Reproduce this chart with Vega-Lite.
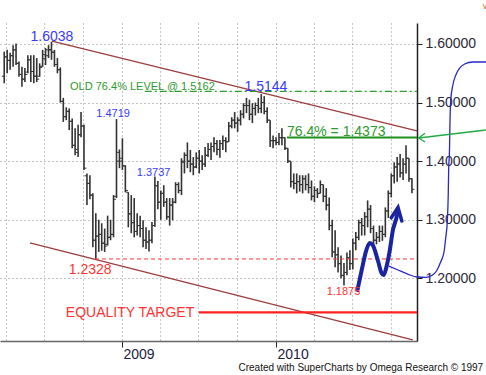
{
  "$schema": "https://vega.github.io/schema/vega-lite/v6.json",
  "width": 417,
  "height": 318,
  "autosize": {"type": "none"},
  "padding": {"left": 0, "top": 23, "right": 69, "bottom": 34},
  "background": "white",
  "config": {"view": {"stroke": null}, "font": "Liberation Sans"},
  "datasets": {
    "bars": [
      {"date":"2008-03-28","open":1.545,"high":1.587,"low":1.533,"close":1.578},
      {"date":"2008-04-04","open":1.578,"high":1.590,"low":1.550,"close":1.572},
      {"date":"2008-04-11","open":1.572,"high":1.585,"low":1.556,"close":1.580},
      {"date":"2008-04-18","open":1.580,"high":1.598,"low":1.561,"close":1.590},
      {"date":"2008-04-25","open":1.590,"high":1.601,"low":1.564,"close":1.567},
      {"date":"2008-05-02","open":1.567,"high":1.570,"low":1.544,"close":1.548},
      {"date":"2008-05-09","open":1.548,"high":1.561,"low":1.527,"close":1.540},
      {"date":"2008-05-16","open":1.540,"high":1.559,"low":1.535,"close":1.548},
      {"date":"2008-05-23","open":1.552,"high":1.581,"low":1.550,"close":1.573},
      {"date":"2008-05-30","open":1.573,"high":1.581,"low":1.535,"close":1.553},
      {"date":"2008-06-06","open":1.553,"high":1.581,"low":1.533,"close":1.545},
      {"date":"2008-06-13","open":1.545,"high":1.576,"low":1.535,"close":1.540},
      {"date":"2008-06-20","open":1.545,"high":1.567,"low":1.544,"close":1.560},
      {"date":"2008-06-27","open":1.562,"high":1.590,"low":1.561,"close":1.582},
      {"date":"2008-07-04","open":1.575,"high":1.593,"low":1.564,"close":1.590},
      {"date":"2008-07-11","open":1.580,"high":1.598,"low":1.576,"close":1.590},
      {"date":"2008-07-18","open":1.590,"high":1.6038,"low":1.573,"close":1.586},
      {"date":"2008-07-25","open":1.586,"high":1.590,"low":1.561,"close":1.565},
      {"date":"2008-08-01","open":1.565,"high":1.576,"low":1.550,"close":1.556},
      {"date":"2008-08-08","open":1.556,"high":1.560,"low":1.500,"close":1.502},
      {"date":"2008-08-15","open":1.502,"high":1.508,"low":1.467,"close":1.476},
      {"date":"2008-08-22","open":1.476,"high":1.492,"low":1.470,"close":1.485},
      {"date":"2008-08-29","open":1.485,"high":1.490,"low":1.453,"close":1.468},
      {"date":"2008-09-05","open":1.468,"high":1.473,"low":1.422,"close":1.427},
      {"date":"2008-09-12","open":1.427,"high":1.456,"low":1.410,"close":1.420},
      {"date":"2008-09-19","open":1.415,"high":1.462,"low":1.407,"close":1.445},
      {"date":"2008-09-26","open":1.445,"high":1.484,"low":1.441,"close":1.460},
      {"date":"2008-10-03","open":1.460,"high":1.462,"low":1.385,"close":1.388},
      {"date":"2008-10-10","open":1.375,"high":1.379,"low":1.325,"close":1.362},
      {"date":"2008-10-17","open":1.362,"high":1.376,"low":1.335,"close":1.342},
      {"date":"2008-10-24","open":1.342,"high":1.345,"low":1.253,"close":1.265},
      {"date":"2008-10-31","open":1.265,"high":1.311,"low":1.2328,"close":1.272},
      {"date":"2008-11-07","open":1.272,"high":1.300,"low":1.245,"close":1.275},
      {"date":"2008-11-14","open":1.275,"high":1.294,"low":1.247,"close":1.260},
      {"date":"2008-11-21","open":1.260,"high":1.285,"low":1.245,"close":1.255},
      {"date":"2008-11-28","open":1.258,"high":1.307,"low":1.256,"close":1.270},
      {"date":"2008-12-05","open":1.270,"high":1.300,"low":1.265,"close":1.275},
      {"date":"2008-12-12","open":1.275,"high":1.342,"low":1.270,"close":1.335},
      {"date":"2008-12-19","open":1.340,"high":1.4719,"low":1.337,"close":1.415},
      {"date":"2008-12-26","open":1.400,"high":1.420,"low":1.388,"close":1.405},
      {"date":"2009-01-02","open":1.400,"high":1.439,"low":1.385,"close":1.392},
      {"date":"2009-01-09","open":1.392,"high":1.393,"low":1.347,"close":1.350},
      {"date":"2009-01-16","open":1.347,"high":1.347,"low":1.287,"close":1.310},
      {"date":"2009-01-23","open":1.310,"high":1.342,"low":1.277,"close":1.295},
      {"date":"2009-01-30","open":1.295,"high":1.337,"low":1.270,"close":1.280},
      {"date":"2009-02-06","open":1.280,"high":1.311,"low":1.273,"close":1.290},
      {"date":"2009-02-13","open":1.290,"high":1.307,"low":1.270,"close":1.285},
      {"date":"2009-02-20","open":1.285,"high":1.299,"low":1.253,"close":1.265},
      {"date":"2009-02-27","open":1.265,"high":1.287,"low":1.250,"close":1.262},
      {"date":"2009-03-06","open":1.262,"high":1.282,"low":1.2457,"close":1.265},
      {"date":"2009-03-13","open":1.265,"high":1.296,"low":1.260,"close":1.290},
      {"date":"2009-03-20","open":1.290,"high":1.3737,"low":1.288,"close":1.358},
      {"date":"2009-03-27","open":1.358,"high":1.366,"low":1.318,"close":1.330},
      {"date":"2009-04-03","open":1.330,"high":1.350,"low":1.300,"close":1.345},
      {"date":"2009-04-10","open":1.345,"high":1.359,"low":1.322,"close":1.330},
      {"date":"2009-04-17","open":1.330,"high":1.337,"low":1.300,"close":1.305},
      {"date":"2009-04-24","open":1.305,"high":1.337,"low":1.290,"close":1.325},
      {"date":"2009-05-01","open":1.325,"high":1.337,"low":1.299,"close":1.330},
      {"date":"2009-05-08","open":1.330,"high":1.364,"low":1.328,"close":1.360},
      {"date":"2009-05-15","open":1.360,"high":1.364,"low":1.345,"close":1.350},
      {"date":"2009-05-22","open":1.350,"high":1.405,"low":1.342,"close":1.400},
      {"date":"2009-05-29","open":1.398,"high":1.415,"low":1.379,"close":1.410},
      {"date":"2009-06-05","open":1.410,"high":1.432,"low":1.388,"close":1.400},
      {"date":"2009-06-12","open":1.400,"high":1.419,"low":1.381,"close":1.395},
      {"date":"2009-06-19","open":1.395,"high":1.407,"low":1.376,"close":1.390},
      {"date":"2009-06-26","open":1.390,"high":1.415,"low":1.388,"close":1.405},
      {"date":"2009-07-03","open":1.405,"high":1.419,"low":1.379,"close":1.400},
      {"date":"2009-07-10","open":1.400,"high":1.410,"low":1.385,"close":1.395},
      {"date":"2009-07-17","open":1.395,"high":1.424,"low":1.390,"close":1.410},
      {"date":"2009-07-24","open":1.410,"high":1.431,"low":1.407,"close":1.420},
      {"date":"2009-07-31","open":1.420,"high":1.432,"low":1.402,"close":1.425},
      {"date":"2009-08-07","open":1.425,"high":1.441,"low":1.415,"close":1.430},
      {"date":"2009-08-14","open":1.430,"high":1.436,"low":1.410,"close":1.420},
      {"date":"2009-08-21","open":1.420,"high":1.436,"low":1.406,"close":1.430},
      {"date":"2009-08-28","open":1.430,"high":1.444,"low":1.419,"close":1.435},
      {"date":"2009-09-04","open":1.435,"high":1.441,"low":1.415,"close":1.433},
      {"date":"2009-09-11","open":1.433,"high":1.467,"low":1.433,"close":1.460},
      {"date":"2009-09-18","open":1.460,"high":1.475,"low":1.456,"close":1.470},
      {"date":"2009-09-25","open":1.470,"high":1.484,"low":1.456,"close":1.465},
      {"date":"2009-10-02","open":1.465,"high":1.475,"low":1.450,"close":1.470},
      {"date":"2009-10-09","open":1.470,"high":1.487,"low":1.461,"close":1.480},
      {"date":"2009-10-16","open":1.480,"high":1.499,"low":1.473,"close":1.495},
      {"date":"2009-10-23","open":1.495,"high":1.508,"low":1.482,"close":1.495},
      {"date":"2009-10-30","open":1.495,"high":1.505,"low":1.470,"close":1.480},
      {"date":"2009-11-06","open":1.480,"high":1.499,"low":1.465,"close":1.490},
      {"date":"2009-11-13","open":1.490,"high":1.500,"low":1.478,"close":1.495},
      {"date":"2009-11-20","open":1.495,"high":1.508,"low":1.482,"close":1.490},
      {"date":"2009-11-27","open":1.490,"high":1.5144,"low":1.482,"close":1.500},
      {"date":"2009-12-04","open":1.500,"high":1.511,"low":1.480,"close":1.485},
      {"date":"2009-12-11","open":1.485,"high":1.492,"low":1.465,"close":1.470},
      {"date":"2009-12-18","open":1.470,"high":1.470,"low":1.424,"close":1.435},
      {"date":"2009-12-25","open":1.435,"high":1.444,"low":1.422,"close":1.435},
      {"date":"2010-01-01","open":1.435,"high":1.441,"low":1.427,"close":1.432},
      {"date":"2010-01-08","open":1.432,"high":1.448,"low":1.427,"close":1.440},
      {"date":"2010-01-15","open":1.440,"high":1.456,"low":1.427,"close":1.440},
      {"date":"2010-01-22","open":1.440,"high":1.441,"low":1.419,"close":1.422},
      {"date":"2010-01-29","open":1.422,"high":1.422,"low":1.397,"close":1.400},
      {"date":"2010-02-05","open":1.400,"high":1.400,"low":1.355,"close":1.365},
      {"date":"2010-02-12","open":1.365,"high":1.379,"low":1.352,"close":1.362},
      {"date":"2010-02-19","open":1.362,"high":1.379,"low":1.345,"close":1.365},
      {"date":"2010-02-26","open":1.365,"high":1.376,"low":1.348,"close":1.360},
      {"date":"2010-03-05","open":1.360,"high":1.376,"low":1.345,"close":1.370},
      {"date":"2010-03-12","open":1.370,"high":1.376,"low":1.350,"close":1.360},
      {"date":"2010-03-19","open":1.360,"high":1.379,"low":1.345,"close":1.355},
      {"date":"2010-03-26","open":1.355,"high":1.367,"low":1.333,"close":1.340},
      {"date":"2010-04-02","open":1.340,"high":1.357,"low":1.330,"close":1.350},
      {"date":"2010-04-09","open":1.350,"high":1.354,"low":1.337,"close":1.345},
      {"date":"2010-04-16","open":1.345,"high":1.367,"low":1.345,"close":1.360},
      {"date":"2010-04-23","open":1.360,"high":1.360,"low":1.330,"close":1.340},
      {"date":"2010-04-30","open":1.340,"high":1.354,"low":1.316,"close":1.325},
      {"date":"2010-05-07","open":1.325,"high":1.338,"low":1.282,"close":1.290},
      {"date":"2010-05-14","open":1.290,"high":1.300,"low":1.236,"close":1.245},
      {"date":"2010-05-21","open":1.245,"high":1.282,"low":1.219,"close":1.240},
      {"date":"2010-05-28","open":1.240,"high":1.253,"low":1.210,"close":1.225},
      {"date":"2010-06-04","open":1.225,"high":1.239,"low":1.200,"close":1.205},
      {"date":"2010-06-11","open":1.205,"high":1.226,"low":1.1875,"close":1.210},
      {"date":"2010-06-18","open":1.210,"high":1.244,"low":1.205,"close":1.235},
      {"date":"2010-06-25","open":1.235,"high":1.248,"low":1.214,"close":1.225},
      {"date":"2010-07-02","open":1.225,"high":1.268,"low":1.215,"close":1.260},
      {"date":"2010-07-09","open":1.260,"high":1.279,"low":1.248,"close":1.270},
      {"date":"2010-07-16","open":1.270,"high":1.300,"low":1.265,"close":1.295},
      {"date":"2010-07-23","open":1.295,"high":1.303,"low":1.273,"close":1.290},
      {"date":"2010-07-30","open":1.290,"high":1.313,"low":1.273,"close":1.305},
      {"date":"2010-08-06","open":1.305,"high":1.333,"low":1.287,"close":1.318},
      {"date":"2010-08-13","open":1.318,"high":1.325,"low":1.277,"close":1.285},
      {"date":"2010-08-20","open":1.285,"high":1.290,"low":1.256,"close":1.265},
      {"date":"2010-08-27","open":1.265,"high":1.279,"low":1.258,"close":1.270},
      {"date":"2010-09-03","open":1.270,"high":1.290,"low":1.262,"close":1.280},
      {"date":"2010-09-10","open":1.280,"high":1.290,"low":1.264,"close":1.275},
      {"date":"2010-09-17","open":1.275,"high":1.321,"low":1.270,"close":1.315},
      {"date":"2010-09-24","open":1.315,"high":1.350,"low":1.303,"close":1.345},
      {"date":"2010-10-01","open":1.345,"high":1.379,"low":1.338,"close":1.375},
      {"date":"2010-10-08","open":1.375,"high":1.398,"low":1.362,"close":1.390},
      {"date":"2010-10-15","open":1.390,"high":1.407,"low":1.365,"close":1.395},
      {"date":"2010-10-22","open":1.395,"high":1.412,"low":1.372,"close":1.380},
      {"date":"2010-10-29","open":1.380,"high":1.405,"low":1.368,"close":1.395},
      {"date":"2010-11-05","open":1.395,"high":1.427,"low":1.379,"close":1.405},
      {"date":"2010-11-12","open":1.405,"high":1.405,"low":1.365,"close":1.370},
      {"date":"2010-11-19","open":1.370,"high":1.371,"low":1.345,"close":1.352}
    ]
  },
  "layer": [
    {
      "data": {"name": "bars"},
      "mark": {"type": "rule", "color": "#333333", "strokeWidth": 1.6},
      "encoding": {
        "x": {
          "field": "date", "type": "temporal", "title": null,
          "scale": {"domain": [{"year": 2008, "month": 3, "date": 18, "utc": true}, {"year": 2010, "month": 12, "date": 1, "utc": true}], "nice": false},
          "axis": {
            "values": [
              {"year": 2008, "month": 4, "date": 1, "utc": true},
              {"year": 2008, "month": 7, "date": 1, "utc": true},
              {"year": 2008, "month": 10, "date": 1, "utc": true},
              {"year": 2009, "month": 1, "date": 1, "utc": true},
              {"year": 2009, "month": 4, "date": 1, "utc": true},
              {"year": 2009, "month": 7, "date": 1, "utc": true},
              {"year": 2009, "month": 10, "date": 1, "utc": true},
              {"year": 2010, "month": 1, "date": 1, "utc": true},
              {"year": 2010, "month": 4, "date": 1, "utc": true},
              {"year": 2010, "month": 7, "date": 1, "utc": true},
              {"year": 2010, "month": 10, "date": 1, "utc": true}
            ],
            "labelExpr": "utcmonth(datum.value) == 0 ? utcFormat(datum.value, '%Y') : ''",
            "labelAlign": "left",
            "labelBaseline": "top",
            "labelPadding": 0,
            "labelOffset": 1,
            "labelFontSize": 14,
            "labelFont": "Liberation Sans",
            "labelColor": "#1c1c40",
            "labelOverlap": false,
            "labelFlush": false,
            "labelBound": false,
            "tickSize": 6,
            "tickColor": "#222222",
            "tickWidth": 1,
            "tickOpacity": {"condition": {"test": "utcmonth(datum.value) == 0", "value": 1}, "value": 0},
            "domainColor": "#666666",
            "domainWidth": 1.6,
            "grid": true,
            "gridColor": "#8a8a8a",
            "gridDash": [1, 3],
            "gridWidth": 1
          }
        },
        "y": {
          "field": "low", "type": "quantitative", "title": null,
          "scale": {"domain": [1.09296, 1.63585], "nice": false, "zero": false},
          "axis": {
            "orient": "right",
            "values": [1.2, 1.3, 1.4, 1.5, 1.6],
            "format": ".5f",
            "labelFontSize": 14,
            "labelFont": "Liberation Sans",
            "labelColor": "#2a2a3a",
            "labelPadding": 3,
            "tickSize": 5,
            "tickColor": "#222222",
            "domainColor": "#222222",
            "domainWidth": 1.5,
            "grid": true,
            "gridColor": "#8a8a8a",
            "gridDash": [1, 3],
            "gridWidth": 1
          }
        },
        "y2": {"field": "high"}
      }
    },
    {
      "data": {"name": "bars"},
      "mark": {"type": "rule", "color": "#333333", "strokeWidth": 1, "xOffset": -2.5, "x2Offset": 0},
      "encoding": {
        "x": {"field": "date", "type": "temporal", "title": null},
        "x2": {"field": "date"},
        "y": {"field": "open", "type": "quantitative", "title": null}
      }
    },
    {
      "data": {"name": "bars"},
      "mark": {"type": "rule", "color": "#333333", "strokeWidth": 1, "xOffset": 0, "x2Offset": 2.5},
      "encoding": {
        "x": {"field": "date", "type": "temporal", "title": null},
        "x2": {"field": "date"},
        "y": {"field": "close", "type": "quantitative", "title": null}
      }
    },
    {
      "data": {"values": [{"date": "2008-07-19", "value": 1.6051}, {"date": "2010-12-01", "value": 1.4515}]},
      "mark": {"type": "line", "color": "#9c3c3c", "strokeWidth": 1.3},
      "encoding": {"x": {"field": "date", "type": "temporal", "title": null}, "y": {"field": "value", "type": "quantitative", "title": null}}
    },
    {
      "data": {"values": [{"date": "2008-05-28", "value": 1.2603}, {"date": "2010-11-21", "value": 1.0947}]},
      "mark": {"type": "line", "color": "#9c3c3c", "strokeWidth": 1.3},
      "encoding": {"x": {"field": "date", "type": "temporal", "title": null}, "y": {"field": "value", "type": "quantitative", "title": null}}
    },
    {
      "data": {"values": [{"date": "2009-02-24", "value": 1.5192}, {"date": "2010-12-01", "value": 1.5192}]},
      "mark": {"type": "line", "color": "#2e9e2e", "strokeWidth": 1.3, "strokeDash": [7, 3, 2, 3]},
      "encoding": {"x": {"field": "date", "type": "temporal", "title": null}, "y": {"field": "value", "type": "quantitative", "title": null}}
    },
    {
      "data": {"values": [{"date": "2010-01-27", "value": 1.4404}, {"date": "2010-12-01", "value": 1.4404}]},
      "mark": {"type": "line", "color": "#1f8f1f", "strokeWidth": 2.2},
      "encoding": {"x": {"field": "date", "type": "temporal", "title": null}, "y": {"field": "value", "type": "quantitative", "title": null}}
    },
    {
      "data": {"values": [{"date": "2008-10-29", "value": 1.233}, {"date": "2010-12-01", "value": 1.233}]},
      "mark": {"type": "line", "color": "#ff3333", "strokeWidth": 1, "strokeDash": [4, 3]},
      "encoding": {"x": {"field": "date", "type": "temporal", "title": null}, "y": {"field": "value", "type": "quantitative", "title": null}}
    },
    {
      "data": {"values": [{"date": "2009-07-02", "value": 1.142}, {"date": "2010-12-01", "value": 1.142}]},
      "mark": {"type": "line", "color": "#ff2020", "strokeWidth": 2.2},
      "encoding": {"x": {"field": "date", "type": "temporal", "title": null}, "y": {"field": "value", "type": "quantitative", "title": null}}
    },
    {
      "data": {"values": [
        {"date": "2010-09-25", "value": 1.2210},
        {"date": "2010-10-17", "value": 1.2142},
        {"date": "2010-11-09", "value": 1.2073},
        {"date": "2010-12-01", "value": 1.2022},
        {"date": "2010-12-22", "value": 1.2017},
        {"date": "2011-01-05", "value": 1.2048},
        {"date": "2011-01-17", "value": 1.2133},
        {"date": "2011-01-26", "value": 1.2278},
        {"date": "2011-02-03", "value": 1.2449},
        {"date": "2011-02-07", "value": 1.2688},
        {"date": "2011-02-11", "value": 1.2995},
        {"date": "2011-02-13", "value": 1.3422},
        {"date": "2011-02-14", "value": 1.3849},
        {"date": "2011-02-16", "value": 1.4190},
        {"date": "2011-02-17", "value": 1.4617},
        {"date": "2011-02-19", "value": 1.5044},
        {"date": "2011-02-24", "value": 1.5300},
        {"date": "2011-03-03", "value": 1.5471},
        {"date": "2011-03-12", "value": 1.5590},
        {"date": "2011-03-24", "value": 1.5659},
        {"date": "2011-04-12", "value": 1.5693},
        {"date": "2011-05-23", "value": 1.5693}
      ]},
      "mark": {"type": "line", "color": "#2828c8", "strokeWidth": 1.3, "interpolate": "monotone"},
      "encoding": {"x": {"field": "date", "type": "temporal", "title": null}, "y": {"field": "value", "type": "quantitative", "title": null}}
    },
    {
      "data": {"values": [
        {"part": "shaft", "ord": 1, "date": "2010-12-05", "value": 1.4395},
        {"part": "shaft", "ord": 2, "date": "2011-05-13", "value": 1.4532},
        {"part": "head", "ord": 1, "date": "2010-12-20", "value": 1.4476},
        {"part": "head", "ord": 2, "date": "2010-12-05", "value": 1.4395},
        {"part": "head", "ord": 3, "date": "2010-12-20", "value": 1.4327}
      ]},
      "mark": {"type": "line", "color": "#22aa44", "strokeWidth": 1.3},
      "encoding": {
        "x": {"field": "date", "type": "temporal", "title": null},
        "y": {"field": "value", "type": "quantitative", "title": null},
        "detail": {"field": "part"},
        "order": {"field": "ord", "type": "quantitative"}
      }
    },
    {
      "data": {"values": [
        {"date": "2010-07-13", "value": 1.1800},
        {"date": "2010-07-23", "value": 1.2142},
        {"date": "2010-08-03", "value": 1.2483},
        {"date": "2010-08-11", "value": 1.2603},
        {"date": "2010-08-18", "value": 1.2569},
        {"date": "2010-08-30", "value": 1.2312},
        {"date": "2010-09-08", "value": 1.2090},
        {"date": "2010-09-13", "value": 1.2056},
        {"date": "2010-09-19", "value": 1.2176},
        {"date": "2010-09-27", "value": 1.2454},
        {"date": "2010-10-05", "value": 1.2825},
        {"date": "2010-10-14", "value": 1.3052},
        {"date": "2010-10-17", "value": 1.3170}
      ]},
      "mark": {"type": "line", "color": "#1a24a0", "strokeWidth": 4, "interpolate": "monotone", "strokeCap": "round"},
      "encoding": {"x": {"field": "date", "type": "temporal", "title": null}, "y": {"field": "value", "type": "quantitative", "title": null}}
    },
    {
      "data": {"values": [
        {"ord": 1, "date": "2010-10-01", "value": 1.3033},
        {"ord": 2, "date": "2010-10-17", "value": 1.3209},
        {"ord": 3, "date": "2010-10-26", "value": 1.2978}
      ]},
      "mark": {"type": "line", "color": "#1a24a0", "strokeWidth": 3.5, "strokeCap": "round", "strokeJoin": "miter"},
      "encoding": {
        "x": {"field": "date", "type": "temporal", "title": null},
        "y": {"field": "value", "type": "quantitative", "title": null},
        "order": {"field": "ord", "type": "quantitative"}
      }
    },
    {
      "data": {"values": [
        {"label": "1.6038", "date": "2008-07-19", "value": 1.6056},
        {"label": "1.5144", "date": "2009-12-08", "value": 1.5203}
      ]},
      "mark": {"type": "text", "color": "#3a3aff", "fontSize": 14, "font": "Liberation Sans", "align": "center", "baseline": "alphabetic"},
      "encoding": {"x": {"field": "date", "type": "temporal", "title": null}, "y": {"field": "value", "type": "quantitative", "title": null}, "text": {"field": "label"}}
    },
    {
      "data": {"values": [
        {"label": "1.4719", "date": "2008-12-11", "value": 1.4749},
        {"label": "1.3737", "date": "2009-03-17", "value": 1.3747}
      ]},
      "mark": {"type": "text", "color": "#3a3aff", "fontSize": 11, "font": "Liberation Sans", "align": "center", "baseline": "alphabetic"},
      "encoding": {"x": {"field": "date", "type": "temporal", "title": null}, "y": {"field": "value", "type": "quantitative", "title": null}, "text": {"field": "label"}}
    },
    {
      "data": {"values": [{"label": "OLD 76.4% LEVEL @ 1.5162", "date": "2008-08-31", "value": 1.5215}]},
      "mark": {"type": "text", "color": "#2e9a2e", "fontSize": 11, "font": "Liberation Sans", "align": "left", "baseline": "alphabetic"},
      "encoding": {"x": {"field": "date", "type": "temporal", "title": null}, "y": {"field": "value", "type": "quantitative", "title": null}, "text": {"field": "label"}}
    },
    {
      "data": {"values": [{"label": "76.4% = 1.4373", "date": "2010-01-27", "value": 1.4429}]},
      "mark": {"type": "text", "color": "#2e9a2e", "fontSize": 14, "font": "Liberation Sans", "align": "left", "baseline": "alphabetic"},
      "encoding": {"x": {"field": "date", "type": "temporal", "title": null}, "y": {"field": "value", "type": "quantitative", "title": null}, "text": {"field": "label"}}
    },
    {
      "data": {"values": [
        {"label": "1.2328", "date": "2008-08-28", "value": 1.2068},
        {"label": "EQUALITY TARGET", "date": "2008-08-21", "value": 1.1345}
      ]},
      "mark": {"type": "text", "color": "#ff3333", "fontSize": 14, "font": "Liberation Sans", "align": "left", "baseline": "alphabetic"},
      "encoding": {"x": {"field": "date", "type": "temporal", "title": null}, "y": {"field": "value", "type": "quantitative", "title": null}, "text": {"field": "label"}}
    },
    {
      "data": {"values": [{"label": "1.1875", "date": "2010-05-01", "value": 1.1715}]},
      "mark": {"type": "text", "color": "#ff3333", "fontSize": 11, "font": "Liberation Sans", "align": "left", "baseline": "alphabetic"},
      "encoding": {"x": {"field": "date", "type": "temporal", "title": null}, "y": {"field": "value", "type": "quantitative", "title": null}, "text": {"field": "label"}}
    },
    {
      "data": {"values": [{"label": "Created with SuperCharts by Omega Research © 1997", "date": "2009-10-04", "value": 1.0422}]},
      "mark": {"type": "text", "color": "#111111", "fontSize": 10, "font": "Liberation Sans", "align": "left", "baseline": "alphabetic"},
      "encoding": {"x": {"field": "date", "type": "temporal", "title": null}, "y": {"field": "value", "type": "quantitative", "title": null}, "text": {"field": "label"}}
    },
    {
      "data": {"values": [{"label": "v", "date": "2011-05-11", "value": 1.6606}]},
      "mark": {"type": "text", "color": "#cc6a1a", "fontSize": 9, "font": "Liberation Sans", "align": "center", "baseline": "alphabetic"},
      "encoding": {"x": {"field": "date", "type": "temporal", "title": null}, "y": {"field": "value", "type": "quantitative", "title": null}, "text": {"field": "label"}}
    }
  ]
}
